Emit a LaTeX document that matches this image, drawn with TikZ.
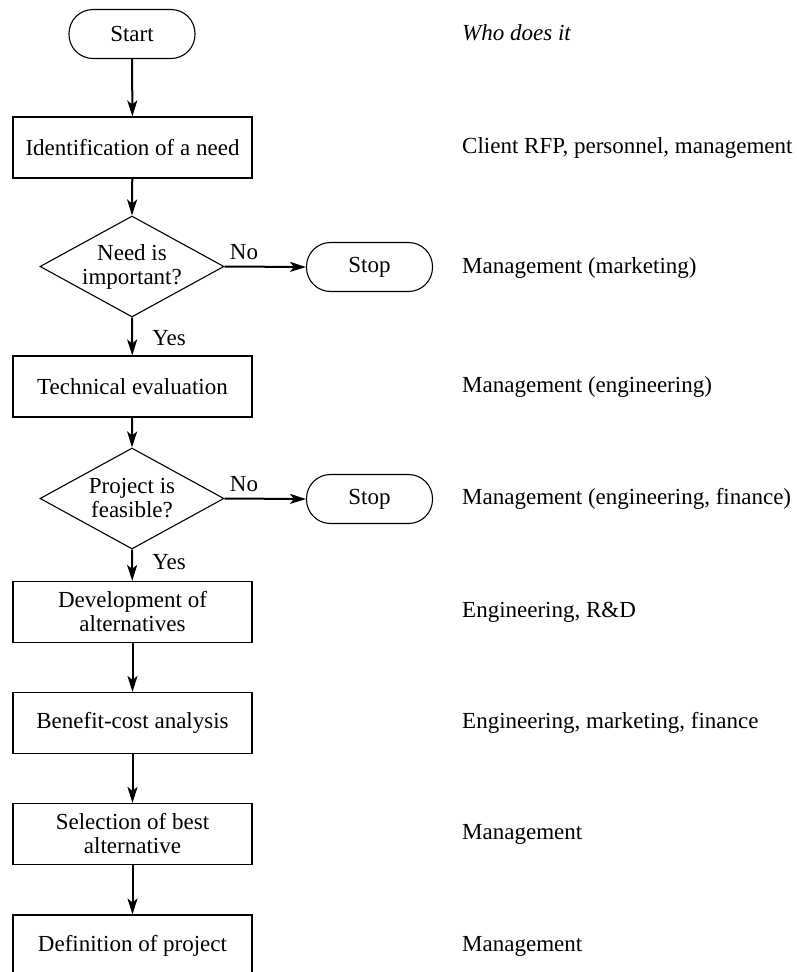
\documentclass[tikz,border=0pt]{standalone}
\usepackage{fontspec}
\setmainfont{Liberation Serif}
\usetikzlibrary{shapes.geometric,arrows.meta}
\begin{document}
\begin{tikzpicture}[x=1pt,y=-1pt,
  every node/.style={font=\fontsize{23}{24}\selectfont},
  box/.style={draw,line width=1.1pt,minimum width=239pt,minimum height=61pt,inner sep=0pt,align=center},
  term/.style={draw,line width=1.1pt,rounded corners=24pt,minimum width=126pt,minimum height=49pt,inner sep=0pt},
  dia/.style={draw,diamond,line width=1.1pt,minimum width=184pt,minimum height=101pt,inner sep=0pt},
  arr/.style={line width=2pt,-{Stealth[length=16pt,width=10pt,inset=4pt]}},
  who/.style={anchor=west,inner sep=0pt},
  lbl/.style={inner sep=0pt}]
\useasboundingbox (0,0) rectangle (796,972);
\node[term] (start) at (132,34) {Start};
\node[box] (b1) at (132.5,147.5) {Identification of a need};
\node[dia] (d1) at (132,266.5) {};
\node[align=center,inner sep=0pt] (d1t) at (132,266.5) {Need is\\important?};
\node[term] (s1) at (369.5,267) {Stop};
\node[box] (b2) at (132.5,386.5) {Technical evaluation};
\node[dia] (d2) at (132,498.5) {};
\node[align=center,inner sep=0pt] (d2t) at (132,498.5) {Project is\\feasible?};
\node[term] (s2) at (369.5,499) {Stop};
\node[box] (b3) at (132.5,612) {Development of\\alternatives};
\node[box] (b4) at (132.5,723) {Benefit-cost analysis};
\node[box] (b5) at (132.5,834) {Selection of best\\alternative};
\node[box] (b6) at (132.5,945.5) {Definition of project};

\draw[arr] (start) -- (b1);
\draw[arr] (b1) -- (d1.north);
\draw[arr] (d1.east) -- (s1.west);
\draw[arr] (d1.south) -- (b2);
\draw[arr] (b2) -- (d2.north);
\draw[arr] (d2.east) -- (s2.west);
\draw[arr] (d2.south) -- (b3);
\draw[arr] (b3) -- (b4);
\draw[arr] (b4) -- (b5);
\draw[arr] (b5) -- (b6);

\node[lbl] (no1) at (244,252) {No};
\node[lbl] (no2) at (244,484) {No};
\node[lbl] (yes1) at (169,338) {Yes};
\node[lbl] (yes2) at (169,562) {Yes};

\node[who] (w0) at (462,33) {\itshape Who does it};
\node[who] (w1) at (462,148) {Client RFP, personnel, management};
\node[who] (w2) at (462,268) {Management (marketing)};
\node[who] (w3) at (462,387) {Management (engineering)};
\node[who] (w4) at (462,499) {Management (engineering, finance)};
\node[who] (w5) at (462,612) {Engineering, R\&D};
\node[who] (w6) at (462,723) {Engineering, marketing, finance};
\node[who] (w7) at (462,834) {Management};
\node[who] (w8) at (462,946) {Management};
\end{tikzpicture}
\end{document}
